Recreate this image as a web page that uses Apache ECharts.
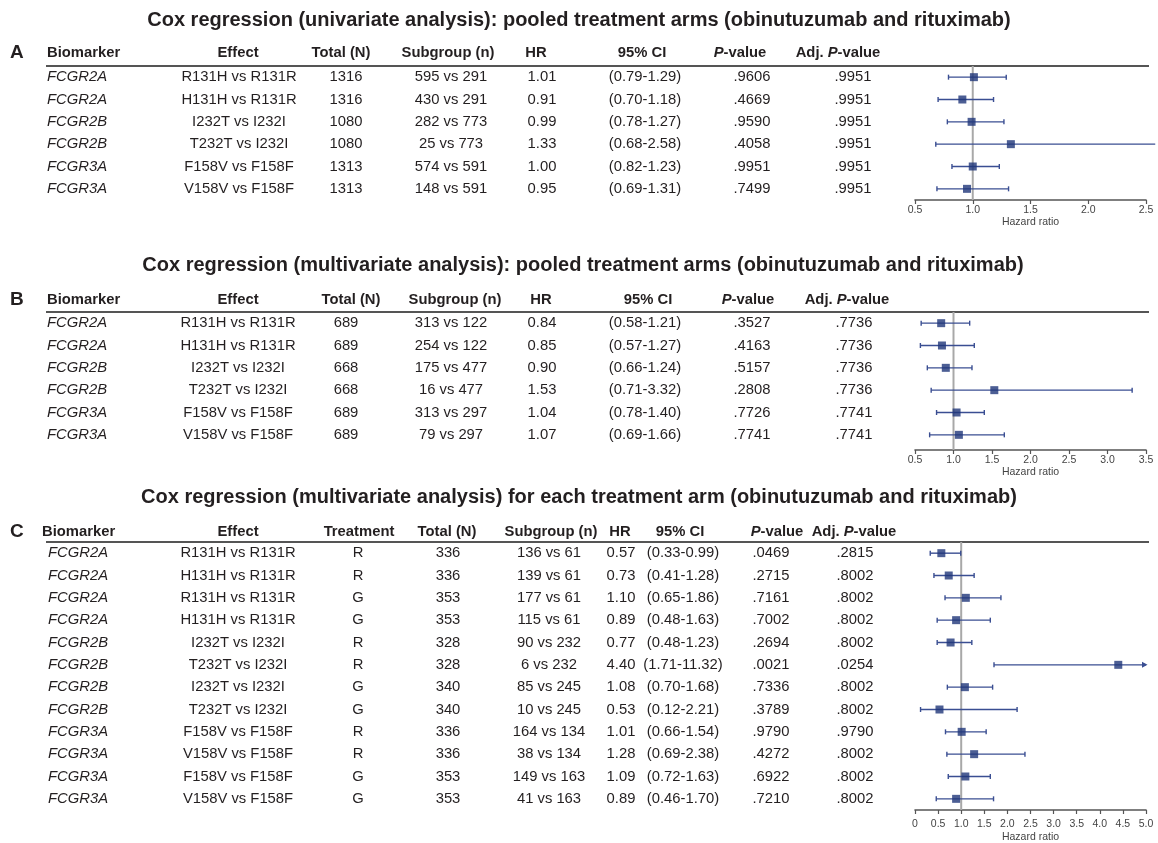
<!DOCTYPE html>
<html>
<head>
<meta charset="utf-8">
<title>Cox regression forest plots</title>
<script src="https://cdn.jsdelivr.net/npm/echarts@6/dist/echarts.min.js"></script>
<style>
html, body { margin: 0; background: #fff; }
#main { width: 1158px; height: 843px; }
</style>
</head>
<body>
<div id="main"></div>
<script>
// ---- panel A: univariate, pooled arms
var biomarkerA = ['FCGR2A', 'FCGR2A', 'FCGR2B', 'FCGR2B', 'FCGR3A', 'FCGR3A'];
var effectA = ['R131H vs R131R', 'H131H vs R131R', 'I232T vs I232I', 'T232T vs I232I', 'F158V vs F158F', 'V158V vs F158F'];
var totalA = [1316, 1316, 1080, 1080, 1313, 1313];
var subgroupA = ['595 vs 291', '430 vs 291', '282 vs 773', '25 vs 773', '574 vs 591', '148 vs 591'];
var hrA = [1.01, 0.91, 0.99, 1.33, 1.00, 0.95];
var lowA = [0.79, 0.70, 0.78, 0.68, 0.82, 0.69];
var highA = [1.29, 1.18, 1.27, 2.58, 1.23, 1.31];
var pA = ['.9606', '.4669', '.9590', '.4058', '.9951', '.7499'];
var adjA = ['.9951', '.9951', '.9951', '.9951', '.9951', '.9951'];

// ---- panel B: multivariate, pooled arms
var biomarkerB = ['FCGR2A', 'FCGR2A', 'FCGR2B', 'FCGR2B', 'FCGR3A', 'FCGR3A'];
var effectB = ['R131H vs R131R', 'H131H vs R131R', 'I232T vs I232I', 'T232T vs I232I', 'F158V vs F158F', 'V158V vs F158F'];
var totalB = [689, 689, 668, 668, 689, 689];
var subgroupB = ['313 vs 122', '254 vs 122', '175 vs 477', '16 vs 477', '313 vs 297', '79 vs 297'];
var hrB = [0.84, 0.85, 0.90, 1.53, 1.04, 1.07];
var lowB = [0.58, 0.57, 0.66, 0.71, 0.78, 0.69];
var highB = [1.21, 1.27, 1.24, 3.32, 1.40, 1.66];
var pB = ['.3527', '.4163', '.5157', '.2808', '.7726', '.7741'];
var adjB = ['.7736', '.7736', '.7736', '.7736', '.7741', '.7741'];

// ---- panel C: multivariate, per treatment arm
var biomarkerC = ['FCGR2A', 'FCGR2A', 'FCGR2A', 'FCGR2A', 'FCGR2B', 'FCGR2B', 'FCGR2B', 'FCGR2B', 'FCGR3A', 'FCGR3A', 'FCGR3A', 'FCGR3A'];
var effectC = ['R131H vs R131R', 'H131H vs R131R', 'R131H vs R131R', 'H131H vs R131R', 'I232T vs I232I', 'T232T vs I232I',
  'I232T vs I232I', 'T232T vs I232I', 'F158V vs F158F', 'V158V vs F158F', 'F158V vs F158F', 'V158V vs F158F'];
var treatmentC = ['R', 'R', 'G', 'G', 'R', 'R', 'G', 'G', 'R', 'R', 'G', 'G'];
var totalC = [336, 336, 353, 353, 328, 328, 340, 340, 336, 336, 353, 353];
var subgroupC = ['136 vs 61', '139 vs 61', '177 vs 61', '115 vs 61', '90 vs 232', '6 vs 232',
  '85 vs 245', '10 vs 245', '164 vs 134', '38 vs 134', '149 vs 163', '41 vs 163'];
var hrC = [0.57, 0.73, 1.10, 0.89, 0.77, 4.40, 1.08, 0.53, 1.01, 1.28, 1.09, 0.89];
var lowC = [0.33, 0.41, 0.65, 0.48, 0.48, 1.71, 0.70, 0.12, 0.66, 0.69, 0.72, 0.46];
var highC = [0.99, 1.28, 1.86, 1.63, 1.23, 11.32, 1.68, 2.21, 1.54, 2.38, 1.63, 1.70];
var pC = ['.0469', '.2715', '.7161', '.7002', '.2694', '.0021', '.7336', '.3789', '.9790', '.4272', '.6922', '.7210'];
var adjC = ['.2815', '.8002', '.8002', '.8002', '.8002', '.0254', '.8002', '.8002', '.9790', '.8002', '.8002', '.8002'];

var titles = [
  'Cox regression (univariate analysis): pooled treatment arms (obinutuzumab and rituximab)',
  'Cox regression (multivariate analysis): pooled treatment arms (obinutuzumab and rituximab)',
  'Cox regression (multivariate analysis) for each treatment arm (obinutuzumab and rituximab)'
];
var headersAB = ['Biomarker', 'Effect', 'Total (N)', 'Subgroup (n)', 'HR', '95% CI', '{i|P}-value', 'Adj. {i|P}-value'];
var headersC = ['Biomarker', 'Effect', 'Treatment', 'Total (N)', 'Subgroup (n)', 'HR', '95% CI', '{i|P}-value', 'Adj. {i|P}-value'];

var FONT = '"Liberation Sans", Arial, Helvetica, sans-serif';
var TXT = '#231f20';
var BAR = '#3a4e92';
var BOX = '#1f3679';
var FS = 14.8;

function hrText(arr) { return arr.map(function (v) { return v.toFixed(2); }); }
function ciText(lo, hi) { return lo.map(function (v, i) { return '(' + v.toFixed(2) + '-' + hi[i].toFixed(2) + ')'; }); }

var panels = [
  {
    letter: 'A', titleX: 579, titleY: 20, headerY: 53, top: 66, height: 134, offset: 0,
    min: 0.5, max: 2.5, arrow: false, labelMargin: 5, nameGap: 15,
    headers: headersAB,
    headerX: [47, 238, 341, 448, 536, 642, 740, 838],
    valueX: [47, 239, 346, 451, 542, 645, 752, 853],
    cols: [biomarkerA, effectA, totalA, subgroupA, hrText(hrA), ciText(lowA, highA), pA, adjA],
    hr: hrA, low: lowA, high: highA
  },
  {
    letter: 'B', titleX: 583, titleY: 265, headerY: 300, top: 312, height: 134, offset: 4,
    min: 0.5, max: 3.5, arrow: false, labelMargin: 5, nameGap: 15,
    headers: headersAB,
    headerX: [47, 238, 351, 455, 541, 648, 748, 847],
    valueX: [47, 238, 346, 451, 542, 645, 752, 854],
    cols: [biomarkerB, effectB, totalB, subgroupB, hrText(hrB), ciText(lowB, highB), pB, adjB],
    hr: hrB, low: lowB, high: highB
  },
  {
    letter: 'C', titleX: 579, titleY: 497, headerY: 532, top: 542, height: 268, offset: 0,
    min: 0, max: 5, arrow: true, labelMargin: 9, nameGap: 22,
    headers: headersC,
    headerX: [42, 238, 359, 447, 551, 620, 680, 777, 854],
    valueX: [48, 238, 358, 448, 549, 621, 683, 771, 855],
    cols: [biomarkerC, effectC, treatmentC, totalC, subgroupC, hrText(hrC), ciText(lowC, highC), pC, adjC],
    hr: hrC, low: lowC, high: highC
  }
];

var PLOT_LEFT = 915;
var PLOT_WIDTH = 231;

var chart = echarts.init(document.getElementById('main'), null, { renderer: 'canvas' });

var grids = [], xAxes = [], yAxes = [], series = [], graphics = [];

panels.forEach(function (pn, k) {
  var rows = pn.hr.map(function (v, i) { return String(i); });

  grids.push({ left: PLOT_LEFT, width: PLOT_WIDTH, top: pn.top, height: pn.height, outerBoundsMode: 'none' });

  xAxes.push({
    gridIndex: k, type: 'value', min: pn.min, max: pn.max, interval: 0.5, offset: pn.offset,
    axisLine: { show: true, lineStyle: { color: '#555', width: 1.6 } },
    axisTick: { show: true, length: 4, lineStyle: { color: '#555', width: 1.2 } },
    splitLine: { show: false },
    axisLabel: {
      fontFamily: FONT, fontSize: 10.5, color: '#444', margin: pn.labelMargin,
      formatter: function (v) { return v === 0 ? '0' : v.toFixed(1); }
    },
    name: 'Hazard ratio', nameLocation: 'middle', nameGap: pn.nameGap,
    nameTextStyle: { fontFamily: FONT, fontSize: 10.5, color: '#444' }
  });

  yAxes.push({ gridIndex: k, type: 'category', data: rows, inverse: true, show: false });

  // reference line at HR = 1, from header rule down to axis line
  series.push({
    type: 'custom', xAxisIndex: k, yAxisIndex: k, silent: true, z: 1,
    data: [[1, 0]],
    renderItem: function (params, api) {
      var x = api.coord([api.value(0), 0])[0];
      var cs = params.coordSys;
      return {
        type: 'line',
        shape: { x1: x, y1: cs.y, x2: x, y2: cs.y + cs.height + pn.offset },
        style: { stroke: '#a8a8a8', lineWidth: 2 }
      };
    }
  });

  // table text, row positions taken from the category axis
  series.push({
    type: 'custom', xAxisIndex: k, yAxisIndex: k, silent: true,
    data: rows.map(function (r, i) { return [pn.min, i]; }),
    encode: { x: 0, y: 1 },
    renderItem: function (params, api) {
      var i = params.dataIndex;
      var y = api.coord([api.value(0), api.value(1)])[1];
      return {
        type: 'group',
        children: pn.cols.map(function (arr, c) {
          return {
            type: 'text', x: pn.valueX[c], y: y,
            style: {
              text: String(arr[i]), fontFamily: FONT, fontSize: FS, fill: TXT,
              fontStyle: c === 0 ? 'italic' : 'normal',
              align: c === 0 ? 'left' : 'center', verticalAlign: 'middle'
            }
          };
        })
      };
    }
  });

  // confidence intervals
  series.push({
    type: 'custom', xAxisIndex: k, yAxisIndex: k, silent: true, z: 3,
    data: pn.low.map(function (lo, i) { return [lo, pn.high[i], i]; }),
    encode: { x: [0, 1], y: 2 },
    renderItem: function (params, api) {
      var lo = api.value(0), hi = api.value(1), i = api.value(2);
      var clipped = pn.arrow && hi > pn.max;
      var p1 = api.coord([lo, i]);
      var p2 = api.coord([clipped ? pn.max : hi, i]);
      var st = { stroke: BAR, lineWidth: 1.4 };
      var kids = [
        { type: 'line', shape: { x1: p1[0], y1: p1[1], x2: p2[0], y2: p2[1] }, style: st },
        { type: 'line', shape: { x1: p1[0], y1: p1[1] - 2.5, x2: p1[0], y2: p1[1] + 2.5 }, style: st }
      ];
      if (clipped) {
        kids.push({
          type: 'polygon',
          shape: { points: [[p2[0] - 4, p2[1] - 3], [p2[0] + 1.5, p2[1]], [p2[0] - 4, p2[1] + 3]] },
          style: { fill: BAR }
        });
      } else if (hi <= pn.max) {
        kids.push({ type: 'line', shape: { x1: p2[0], y1: p2[1] - 2.5, x2: p2[0], y2: p2[1] + 2.5 }, style: st });
      }
      return { type: 'group', children: kids };
    }
  });

  // hazard ratio squares
  series.push({
    type: 'scatter', xAxisIndex: k, yAxisIndex: k, silent: true, z: 4,
    symbol: 'rect', symbolSize: 8,
    itemStyle: { color: BOX },
    data: pn.hr.map(function (v, i) { return [v, i]; })
  });

  // titles, panel letters, column headers, header rules
  graphics.push({
    type: 'text', x: pn.titleX, y: pn.titleY,
    style: { text: titles[k], fontFamily: FONT, fontSize: 20, fontWeight: 'bold', fill: TXT, align: 'center', verticalAlign: 'middle' }
  });
  graphics.push({
    type: 'text', x: 10, y: pn.headerY,
    style: { text: pn.letter, fontFamily: FONT, fontSize: 19, fontWeight: 'bold', fill: TXT, align: 'left', verticalAlign: 'middle' }
  });
  pn.headers.forEach(function (h, c) {
    graphics.push({
      type: 'text', x: pn.headerX[c], y: pn.headerY,
      style: {
        text: h, fontFamily: FONT, fontSize: FS, fontWeight: 'bold', fill: TXT,
        align: c === 0 ? 'left' : 'center', verticalAlign: 'middle',
        rich: { i: { fontFamily: FONT, fontSize: FS, fontWeight: 'bold', fontStyle: 'italic', fill: TXT } }
      }
    });
  });
  graphics.push({
    type: 'line',
    shape: { x1: 46, y1: pn.top, x2: 1149, y2: pn.top },
    style: { stroke: '#555', lineWidth: 2 }
  });
});

var option = {
  backgroundColor: '#fff',
  animation: false,
  grid: grids,
  xAxis: xAxes,
  yAxis: yAxes,
  series: series,
  graphic: graphics
};

chart.setOption(option);
</script>
</body>
</html>
